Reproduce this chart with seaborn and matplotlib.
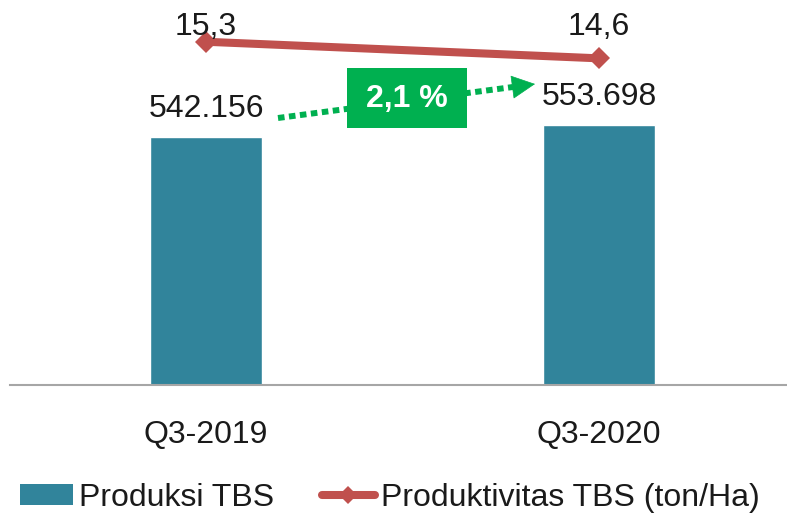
import matplotlib
matplotlib.use("Agg")
import matplotlib.pyplot as plt
import matplotlib.transforms as mtransforms
from matplotlib.lines import Line2D
from matplotlib.patches import Patch, Rectangle, FancyArrowPatch
import seaborn as sns

# data
categories = ["Q3-2019", "Q3-2020"]
produksi = [542156, 553698]          # Produksi TBS (ton)
produktivitas = [15.3, 14.6]         # Produktivitas TBS (ton/Ha)
series_names = ["Produksi TBS", "Produktivitas TBS (ton/Ha)"]

BAR_COLOR = "#31849B"
LINE_COLOR = "#C0504D"
GREEN = "#00B050"

sns.set_style("white")
plt.rcParams["font.family"] = ["Liberation Sans", "DejaVu Sans"]
FS = 23

fig = plt.figure(figsize=(7.87, 5.13), dpi=100)
ax = fig.add_axes([9.5 / 787, 128 / 513, 786 / 787, 375 / 513])

# bars
sns.barplot(x=categories, y=produksi, color=BAR_COLOR, saturation=1,
            width=0.285, ax=ax)
ax.set_ylim(300000, 665900)
ax.set_xlim(-0.5, 1.5)
ax.bar_label(ax.containers[0],
             labels=[f"{v:,}".replace(",", ".") for v in produksi],
             padding=9, fontsize=FS, color="#1a1a1a")

# line on secondary axis
ax2 = ax.twinx()
sns.lineplot(x=[0, 1], y=produktivitas, ax=ax2, color=LINE_COLOR, lw=5.8,
             marker="D", markersize=11, markeredgewidth=0, legend=False,
             solid_capstyle="round")
ax2.set_ylim(0.815, 16.64)
ax2.set_xlim(-0.5, 1.5)
trans = mtransforms.blended_transform_factory(ax2.transData, ax2.transAxes)
for i, v in enumerate(produktivitas):
    ax2.text(i, 0.933, f"{v:.1f}".replace(".", ","), transform=trans,
             ha="center", va="baseline", fontsize=FS, color="#1a1a1a")

# axes styling
for a in (ax, ax2):
    for s in ["top", "right", "left"]:
        a.spines[s].set_visible(False)
    a.set_ylabel("")
    a.set_xlabel("")
    a.set_yticks([])
ax2.spines["bottom"].set_visible(False)
ax.spines["bottom"].set_color("#A6A6A6")
ax.spines["bottom"].set_linewidth(1.5)
ax.tick_params(axis="x", length=0, pad=25, labelsize=FS, labelcolor="#1a1a1a")
ax2.tick_params(axis="x", length=0, labelbottom=False)

# growth arrow (dotted shaft + solid head) and box
growth = (produksi[1] / produksi[0] - 1) * 100
shaft = FancyArrowPatch((0.3416, 0.712), (0.6406, 0.7947),
                        transform=ax2.transAxes, arrowstyle="-", color=GREEN,
                        lw=4.3, ls=(0, (1.1, 0.75)), capstyle="butt",
                        shrinkA=0, shrinkB=0, zorder=3)
head = FancyArrowPatch((0.6406, 0.7947), (0.6686, 0.8027),
                       transform=ax2.transAxes,
                       arrowstyle="-|>,head_length=15.8,head_width=7.9",
                       mutation_scale=1, color=GREEN, lw=0.5,
                       shrinkA=0, shrinkB=0, zorder=3)
ax2.add_patch(shaft)
ax2.add_patch(head)
ax2.add_patch(Rectangle((0.4294, 0.6853), 0.1527, 0.16, transform=ax2.transAxes,
                        facecolor=GREEN, edgecolor="none", zorder=4))
ax2.text(0.5057, 0.762, f"{growth:.1f} %".replace(".", ","),
         transform=ax2.transAxes, ha="center", va="center", fontsize=FS,
         fontweight="bold", color="white", zorder=5)

# legend
handles = [Patch(facecolor=BAR_COLOR, edgecolor="none"),
           Line2D([], [], color=LINE_COLOR, lw=5.8, marker="D", markersize=9,
                  markeredgewidth=0, solid_capstyle="round")]
fig.legend(handles, series_names, loc="center left",
           bbox_to_anchor=(20 / 787, 1 - 498 / 513), ncol=2, frameon=False,
           fontsize=FS, handlelength=1.65, handleheight=0.65, handletextpad=0.2,
           columnspacing=1.5, borderpad=0, borderaxespad=0,
           labelcolor="#1a1a1a")

fig.savefig("out.png", dpi=100)
